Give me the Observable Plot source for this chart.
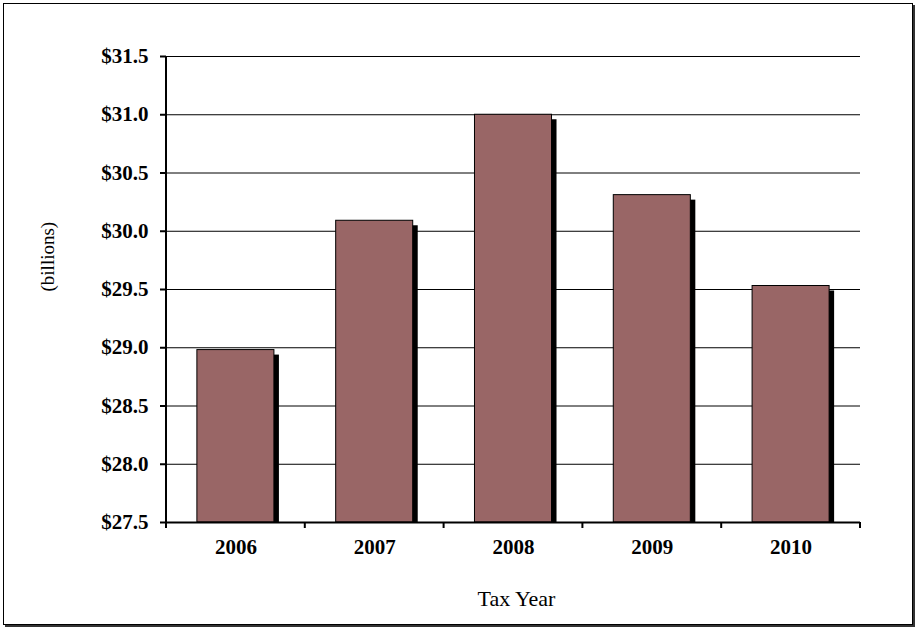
<!DOCTYPE html>
<html><head><meta charset="utf-8">
<script src="https://cdn.jsdelivr.net/npm/d3@7"></script>
<script src="https://cdn.jsdelivr.net/npm/@observablehq/plot@0.6"></script>
<style>
html,body{margin:0;padding:0;background:#fff;overflow:hidden}
#wrap{position:relative;width:918px;height:630px}
#border{position:absolute;left:3px;top:3px;width:908px;height:620px;border:1px solid #000;box-shadow:2px 2px 0 #333;pointer-events:none}
#chart{position:absolute;left:0;top:0}
</style></head><body><div id="wrap"><div id="border"></div><div id="chart"></div></div>
<script>
const years = ["2006", "2007", "2008", "2009", "2010"];
const amounts = [28.98, 30.09, 31.00, 30.31, 29.53];
const yTicks = [27.5, 28.0, 28.5, 29.0, 29.5, 30.0, 30.5, 31.0, 31.5];
const baseline = 27.5;
const yLabel = "(billions)";
const xLabel = "Tax Year";

const data = years.map((year, i) => ({year, amount: amounts[i]}));
const fmt = d => "$" + d.toFixed(1);

const plot = Plot.plot({
  width: 918, height: 630,
  marginLeft: 166, marginRight: 58, marginTop: 56, marginBottom: 108,
  style: {fontFamily: "'Liberation Serif','Times New Roman',serif", fontSize: "21px", background: "transparent", color: "#000"},
  x: {domain: years, paddingInner: 0.445, paddingOuter: 0.2225, round: false},
  y: {domain: [yTicks[0], yTicks[yTicks.length - 1]]},
  marks: [
    Plot.ruleY(yTicks, {stroke: "#000", strokeWidth: 1}),
    Plot.barY(data, {x: "year", y1: baseline, y2: "amount", fill: "#000", dx: 5, dy: 5, clip: true}),
    Plot.barY(data, {x: "year", y1: baseline, y2: "amount", fill: "#996666", stroke: "#000", strokeWidth: 1}),
    Plot.ruleY([baseline], {stroke: "#000", strokeWidth: 2}),
    Plot.axisY(yTicks, {tickSize: 6, tickPadding: 12, tickFormat: fmt, fontWeight: "bold", fontSize: 21, strokeWidth: 2, label: null}),
    Plot.axisX({tickSize: 0, tickPadding: 17, fontWeight: "bold", fontSize: 21, label: null}),
    Plot.text([yLabel], {frameAnchor: "left", dx: -119, dy: 2, rotate: -90, fontSize: 19, fontWeight: "normal"}),
    Plot.text([xLabel], {frameAnchor: "bottom", dx: 3, dy: 83, fontSize: 22, fontWeight: "normal"})
  ]
});
document.getElementById("chart").appendChild(plot);

// category boundary ticks and the vertical axis line, from the plot's own scales
const sx = plot.scale("x"), sy = plot.scale("y");
const half = (sx.step - sx.bandwidth) / 2;
const bounds = years.map(y => sx.apply(y) - half).concat([sx.apply(years[years.length - 1]) + sx.bandwidth + half]);
const y0 = sy.apply(baseline), yTop = sy.apply(yTicks[yTicks.length - 1]);
const g = d3.select(plot).append("g").attr("stroke", "#000").attr("stroke-width", 2);
g.selectAll("line.xt").data(bounds).join("line").attr("class", "xt")
  .attr("x1", d => d).attr("x2", d => d).attr("y1", y0).attr("y2", y0 + 6);
g.append("line").attr("x1", bounds[0]).attr("x2", bounds[0]).attr("y1", yTop).attr("y2", y0 + 1);
</script></body></html>
